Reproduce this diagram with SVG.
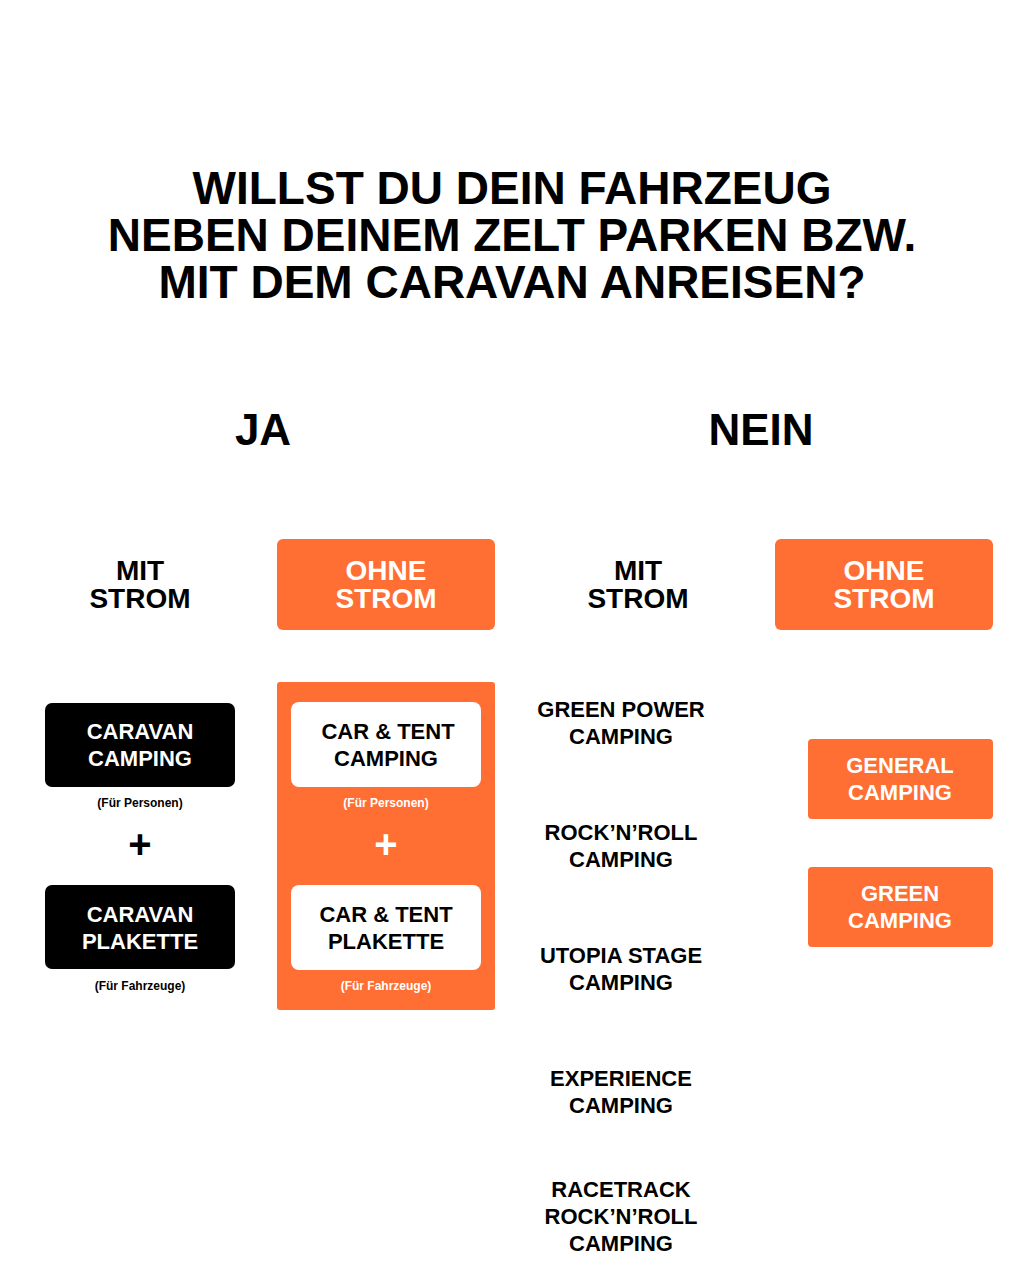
<svg xmlns="http://www.w3.org/2000/svg" width="1024" height="1280" viewBox="0 0 1024 1280">
<style>
text{font-family:"Liberation Sans",Arial,sans-serif;font-weight:bold;text-anchor:middle}
.t{font-size:46px;fill:#000}
.h{font-size:44px;fill:#000}
.m{font-size:28px;fill:#000}
.w{font-size:28px;fill:#fff}
.l{font-size:22px;fill:#000}
.s{font-size:12px}
.o{fill:#ff6e33}
.p{font-size:40px;font-weight:bold}
</style>
<rect width="1024" height="1280" fill="#fff"/>
<g id="title"><text class="t" x="512" y="204">WILLST DU DEIN FAHRZEUG</text><text class="t" x="512" y="251">NEBEN DEINEM ZELT PARKEN BZW.</text><text class="t" x="512" y="298">MIT DEM CARAVAN ANREISEN?</text></g>
<g id="ja"><text class="h" x="263" y="445">JA</text></g>
<g id="nein"><text class="h" x="761" y="445">NEIN</text></g>
<g id="ja-mit"><text class="m" x="140" y="580">MIT</text><text class="m" x="140" y="608">STROM</text></g>
<g id="ja-ohne"><rect class="o" x="277" y="539" width="218" height="91" rx="6"/><text class="w" x="386" y="580">OHNE</text><text class="w" x="386" y="608">STROM</text></g>
<g id="nein-mit"><text class="m" x="638" y="580">MIT</text><text class="m" x="638" y="608">STROM</text></g>
<g id="nein-ohne"><rect class="o" x="775" y="539" width="218" height="91" rx="6"/><text class="w" x="884" y="580">OHNE</text><text class="w" x="884" y="608">STROM</text></g>
<g id="caravan-camping"><rect x="45" y="703" width="190" height="84" rx="7" fill="#000"/><text class="l" x="140" y="739" style="fill:#fff">CARAVAN</text><text class="l" x="140" y="766" style="fill:#fff">CAMPING</text><text class="s" x="140" y="807">(Für Personen)</text></g>
<text x="140" y="858" class="p">+</text>
<g id="caravan-plakette"><rect x="45" y="885" width="190" height="84" rx="7" fill="#000"/><text class="l" x="140" y="922" style="fill:#fff">CARAVAN</text><text class="l" x="140" y="949" style="fill:#fff">PLAKETTE</text><text class="s" x="140" y="990">(Für Fahrzeuge)</text></g>
<g id="cartent"><rect class="o" x="277" y="682" width="218" height="328" rx="3"/>
<rect x="291" y="702" width="190" height="85" rx="8" fill="#fff"/><text class="l" x="388" y="739">CAR &amp; TENT</text><text class="l" x="386" y="766">CAMPING</text><text class="s" x="386" y="807" fill="#fff">(Für Personen)</text>
<text x="386" y="858" class="p" fill="#fff">+</text>
<rect x="291" y="885" width="190" height="85" rx="8" fill="#fff"/><text class="l" x="386" y="922">CAR &amp; TENT</text><text class="l" x="386" y="949">PLAKETTE</text><text class="s" x="386" y="990" fill="#fff">(Für Fahrzeuge)</text></g>
<g id="list"><text class="l" x="621" y="717">GREEN POWER</text><text class="l" x="621" y="744">CAMPING</text>
<text class="l" x="621" y="840">ROCK’N’ROLL</text><text class="l" x="621" y="867">CAMPING</text>
<text class="l" x="621" y="963">UTOPIA STAGE</text><text class="l" x="621" y="990">CAMPING</text>
<text class="l" x="621" y="1086">EXPERIENCE</text><text class="l" x="621" y="1113">CAMPING</text>
<text class="l" x="621" y="1197">RACETRACK</text><text class="l" x="621" y="1224">ROCK’N’ROLL</text><text class="l" x="621" y="1251">CAMPING</text></g>
<g id="general"><rect class="o" x="808" y="739" width="185" height="80" rx="4"/><text class="l" x="900" y="773" style="fill:#fff">GENERAL</text><text class="l" x="900" y="800" style="fill:#fff">CAMPING</text></g>
<g id="green"><rect class="o" x="808" y="867" width="185" height="80" rx="4"/><text class="l" x="900" y="901" style="fill:#fff">GREEN</text><text class="l" x="900" y="928" style="fill:#fff">CAMPING</text></g>
<g id="connectors"/>
</svg>
